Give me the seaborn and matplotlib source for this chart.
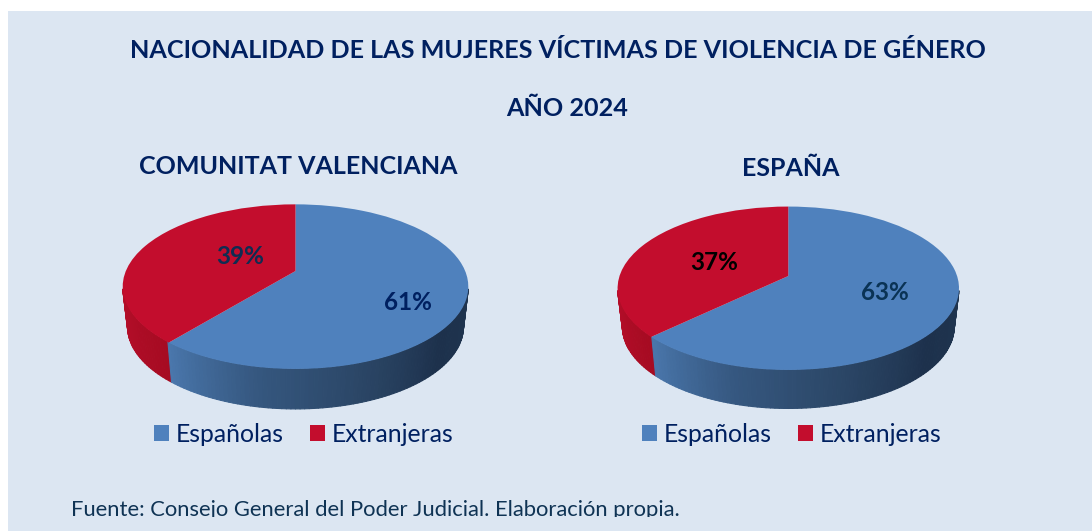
import numpy as np
import matplotlib
matplotlib.use('Agg')
import matplotlib.pyplot as plt
import seaborn as sns
from matplotlib.colors import LinearSegmentedColormap
from matplotlib.collections import PolyCollection
from matplotlib.patches import Patch, Rectangle
from matplotlib.path import Path
from matplotlib.transforms import Bbox, Transform

# Data
categories = ['Españolas', 'Extranjeras']
regions = ['COMUNITAT VALENCIANA', 'ESPAÑA']
valencia_values = [61, 39]
espana_values = [63, 37]
main_title = 'NACIONALIDAD DE LAS MUJERES VÍCTIMAS DE VIOLENCIA DE GÉNERO'
year_title = 'AÑO 2024'
source_note = 'Fuente: Consejo General del Poder Judicial. Elaboración propia.'

PANEL = '#dce6f2'
NAVY = '#002060'
palette = sns.color_palette(['#4f81bd', '#c30d2d'])

sns.set_theme(style='white')
plt.rcParams['font.family'] = ['Lato', 'DejaVu Sans']

W, H = 1092, 531


class TiltTransform(Transform):
    # perspective view of the unit disc, the hub sits above the ellipse centre
    input_dims = output_dims = 2

    def __init__(self, cx, cy, a, b, hub, k, drop=0, shrink=1):
        super().__init__()
        self.cx, self.cy, self.a, self.b = cx, cy, a, b
        self.hub, self.k, self.drop, self.shrink = hub, k, drop, shrink

    def transform_non_affine(self, values):
        u, v = values[:, 0], values[:, 1]
        w = 1 + self.k * v
        big_a = self.a * np.sqrt(1 - self.k ** 2) * self.shrink
        x = self.cx + big_a * u / w
        y = self.cy + self.drop - (self.b * v + self.hub) / w
        return np.column_stack([x, y])

    def transform_path_non_affine(self, path):
        return Path(self.transform_non_affine(path.vertices), path.codes)


def draw_pie(ax, values, title, title_xy, geom, depth, label_xy, label_colors, legend_x):
    ax.set_position([0, 0, 1, 1])
    tilt = TiltTransform(**geom)
    low = TiltTransform(**geom, drop=depth, shrink=0.972)

    # side wall, split at the slice boundary
    edge = np.arcsin(geom['k'])
    split = np.pi / 2 - 2 * np.pi * values[0] / 100 + 2 * np.pi
    wall_theta = np.linspace(np.pi + edge + 0.03, 2 * np.pi - edge - 0.03, 121)
    mids = (wall_theta[:-1] + wall_theta[1:]) / 2
    quads, colors = [], []
    blue_wall = LinearSegmentedColormap.from_list(
        'blue_wall', ['#4a77ac', '#35577f', '#2b4666', '#1d314c', '#1f344f'])
    red_wall = LinearSegmentedColormap.from_list('red_wall', ['#b60e2a', '#a60b22'])
    for t0, t1, m in zip(wall_theta[:-1], wall_theta[1:], mids):
        ring = np.array([[np.cos(t0), np.sin(t0)], [np.cos(t1), np.sin(t1)]])
        top = tilt.transform_non_affine(ring)
        bot = low.transform_non_affine(ring)
        quads.append([top[0], top[1], bot[1], bot[0]])
        if m < split:
            colors.append(red_wall((m - wall_theta[0]) / (split - wall_theta[0])))
        else:
            colors.append(blue_wall((m - split) / (wall_theta[-1] - split)))
    ax.add_collection(PolyCollection(quads, facecolors=colors, edgecolors=colors, linewidths=0.8))

    wedges, _, autotexts = ax.pie(values, colors=palette, startangle=90, counterclock=False,
                                  radius=1, autopct='%.0f%%', frame=False,
                                  wedgeprops={'linewidth': 0, 'edgecolor': 'none'})
    for w in wedges:
        w.set_transform(tilt + ax.transData)
    for t, xy, c in zip(autotexts, label_xy, label_colors):
        t.set_position(xy)
        t.set_color(c)
        t.set_fontsize(17.5)
        t.set_fontweight('bold')
        t.set_ha('center')
        t.set_va('center')

    ax.set_xlim(0, W)
    ax.set_ylim(H, 0)
    ax.set_aspect('auto')
    ax.axis('off')
    ax.text(title_xy[0], title_xy[1], title, color=NAVY, fontsize=18, fontweight='bold',
            ha='center', va='center')
    handles = [Patch(facecolor=c, edgecolor='none') for c in palette]
    leg = ax.legend(handles, categories, ncol=2, frameon=False, fontsize=17.8,
                    loc='center left', bbox_to_anchor=(legend_x, 434.5), bbox_transform=ax.transData,
                    handlelength=0.6, handleheight=0.6, handletextpad=0.28, columnspacing=1.05,
                    borderaxespad=0, borderpad=0, labelcolor=NAVY)
    return leg


fig, axes = plt.subplots(1, 2, figsize=(W / 100, H / 100), dpi=100)
fig.patch.set_facecolor('white')
fig.add_artist(Rectangle((8 / W, 0), 1 - 8 / W, 1 - 11 / H, transform=fig.transFigure,
                         facecolor=PANEL, edgecolor='none', zorder=-1))
for ax in axes:
    ax.patch.set_visible(False)

draw_pie(axes[0], valencia_values, regions[0], (298, 167),
         dict(cx=295.5, cy=286.7, a=172.8, b=82.3, hub=15.7, k=0.19), 40,
         [(407.5, 303), (240.5, 256)], ['#002060', '#0f2c52'], 154)
draw_pie(axes[1], espana_values, regions[1], (791, 169),
         dict(cx=788.3, cy=288.3, a=170.7, b=81.7, hub=12.3, k=0.15), 38.5,
         [(884.5, 292), (714, 262)], ['#0a3355', '#000000'], 642)

fig.text(558 / W, 1 - 51 / H, main_title, color=NAVY, fontsize=18.1, fontweight='bold', ha='center', va='center')
fig.text(567 / W, 1 - 109 / H, year_title, color=NAVY, fontsize=18.1, fontweight='bold', ha='center', va='center')
note = fig.text(71 / W, 1 - 516 / H, source_note, color='#0f3354', fontsize=15.85, ha='left', va='baseline')
# the source line is cut just under the baseline in the original
note.set_clip_box(Bbox([[0, H - 517], [W, H]]))
note.set_clip_on(True)

fig.savefig('out.png', dpi=100)
